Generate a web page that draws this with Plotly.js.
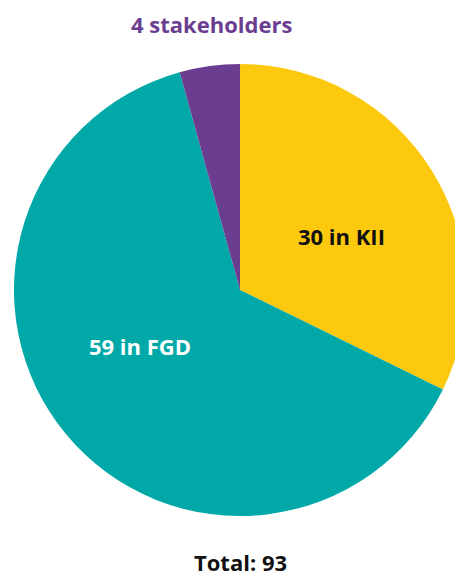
<!DOCTYPE html>
<html>
<head>
<meta charset="utf-8">
<script src="https://cdn.plot.ly/plotly-3.0.1.min.js"></script>
<style>
html,body{margin:0;padding:0;overflow:hidden;background:#fff;}
#chart{width:480px;height:579px;}
</style>
</head>
<body>
<div id="chart"></div>
<script>
var categories = ["KII", "FGD", "stakeholders"];
var values = [30, 59, 4];
var sliceLabels = ["30 in KII", "59 in FGD", "4 stakeholders"];
var colors = ["#FDC90F", "#00A9A8", "#6B3D90"];
var labelColors = ["#111111", "#ffffff", "#6B3D90"];
var totalLabel = "Total: " + values.reduce(function(a,b){return a+b;}, 0);

var W = 480, H = 579;
var cx = 240, cy = 290, R = 226;
// label centres (pixels)
var labelPos = [[341, 236], [140, 346], [211, 24]];
var totalPos = [240, 562];

var trace = {
  type: "pie",
  labels: categories,
  values: values,
  sort: false,
  direction: "clockwise",
  rotation: 0,
  marker: {colors: colors, line: {width: 0}},
  textinfo: "none",
  hoverinfo: "none",
  showlegend: false,
  domain: {x: [(cx - R) / W, (cx + R) / W], y: [1 - (cy + R) / H, 1 - (cy - R) / H]}
};

var font = "Open Sans, sans-serif";
var annotations = sliceLabels.map(function(t, i){
  return {text: "<b>" + t + "</b>", x: labelPos[i][0] / W, y: 1 - labelPos[i][1] / H,
    xref: "paper", yref: "paper", xanchor: "center", yanchor: "middle", showarrow: false,
    font: {family: font, size: 22, color: labelColors[i]}};
});
annotations.push({text: "<b>" + totalLabel + "</b>", x: totalPos[0] / W, y: 1 - totalPos[1] / H,
  xref: "paper", yref: "paper", xanchor: "center", yanchor: "middle", showarrow: false,
  borderpad: 0,
  font: {family: font, size: 22, color: "#111111"}});

var layout = {
  width: W, height: H,
  margin: {l: 0, r: 0, t: 0, b: 0},
  paper_bgcolor: "#ffffff",
  showlegend: false,
  annotations: annotations
};

Plotly.newPlot("chart", [trace], layout, {staticPlot: true, displayModeBar: false});
</script>
</body>
</html>
